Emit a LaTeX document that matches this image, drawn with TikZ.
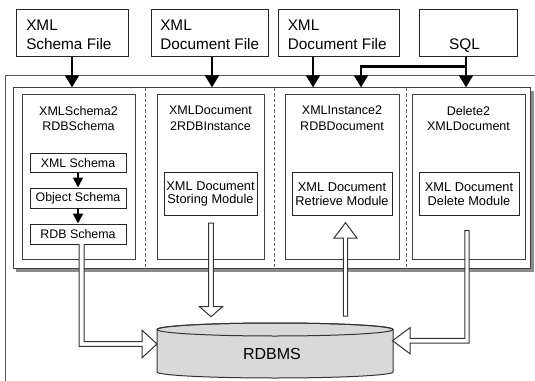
\documentclass[tikz,border=0pt]{standalone}
\usepackage{fontspec}
\setmainfont{Liberation Sans}
\usetikzlibrary{arrows.meta,calc}
\newlength\pxu
\setlength\pxu{0.75pt}
\begin{document}
\begin{tikzpicture}[x=0.75pt,y=-0.75pt,
  box/.style={draw=black!85, rectangle, inner sep=0pt, line width=0.75pt},
  colbox/.style={draw=black!75, rectangle, inner sep=0pt, line width=0.75pt, minimum height=164\pxu},
  toptext/.style={inner sep=0pt, anchor=west, align=left, font=\fontsize{11.5}{14.25}\selectfont},
  coltitle/.style={inner sep=0pt, align=center, font=\fontsize{9.4}{11.8}\selectfont},
  modtext/.style={inner sep=0pt, align=center, font=\fontsize{9.6}{10}\selectfont},
  smalltext/.style={inner sep=0pt, font=\fontsize{9.3}{11}\selectfont},
  blk/.style={line width=2.2pt, -{Triangle[length=9pt,width=10pt]}},
  sml/.style={line width=1.4pt, -{Triangle[length=7.5pt,width=7.5pt]}},
  divider/.style={draw=black!60, line width=0.75pt, dash pattern=on 2.5pt off 1.5pt},
  hollow/.style={draw=black!80, fill=white, line width=0.75pt, line join=miter}
]
\useasboundingbox (0,0) rectangle (535,381);

% outer frame (open to the right and bottom)
\draw[black!65, line width=0.75pt] (5,381) -- (5,76) -- (535,76);

% inner frame with shadow
\fill[black!45] (16,91) rectangle (533.5,271.5);
\node[draw=black!75, fill=white, line width=0.75pt, inner sep=0pt,
      minimum width=517\pxu, minimum height=180\pxu] (frame) at (271.5,178) {};

% dashed dividers
\draw[divider] (145,88) -- (145,268);
\draw[divider] (274,88) -- (274,268);
\draw[divider] (406,88) -- (406,268);

% top input boxes
\node[box, minimum width=112\pxu, minimum height=46.5\pxu] (f1) at (72,33.25) {};
\node[box, minimum width=117\pxu, minimum height=46.5\pxu] (f2) at (209.5,33.25) {};
\node[box, minimum width=121\pxu, minimum height=46.5\pxu] (f3) at (338.5,33.25) {};
\node[box, minimum width=98\pxu, minimum height=46.5\pxu] (sql) at (468,33.25) {};
\node[toptext] (t1) at (26,34.5) {XML\\Schema File};
\node[toptext] (t2) at (160,34.5) {XML\\Document File};
\node[toptext] (t3) at (287.5,34.5) {XML\\Document File};
\node[inner sep=0pt, anchor=base, font=\fontsize{11.5}{14.25}\selectfont] (t4) at (464.5,50) {SQL};

% column boxes
\node[colbox, minimum width=113\pxu] (c1) at (78.5,177) {};
\node[colbox, minimum width=107\pxu] (c2) at (210.5,177) {};
\node[colbox, minimum width=114\pxu] (c3) at (342,177) {};
\node[colbox, minimum width=113\pxu] (c4) at (468.5,177) {};
\node[coltitle] (h1) at (78.5,118.4) {XMLSchema2\\RDBSchema};
\node[coltitle] (h2) at (210.5,118.4) {XMLDocument\\2RDBInstance};
\node[coltitle] (h3) at (342,118.4) {XMLInstance2\\RDBDocument};
\node[coltitle] (h4) at (468.5,118.4) {Delete2\\XMLDocument};

% schema chain in column 1
\node[box, minimum width=96\pxu, minimum height=19\pxu] (s1) at (78,163.5) {};
\node[box, minimum width=96\pxu, minimum height=20\pxu] (s2) at (78,198) {};
\node[box, minimum width=96\pxu, minimum height=20\pxu] (s3) at (78,234) {};
\node[smalltext] at (s1) {XML Schema};
\node[smalltext] at (s2) {Object Schema};
\node[smalltext] at (s3) {RDB Schema};
\draw[sml] (s1.south) -- (s2.north);
\draw[sml] (s2.south) -- (s3.north);

% modules
\node[box, minimum width=93\pxu, minimum height=42\pxu] (m2) at (210.5,194) {};
\node[box, minimum width=100\pxu, minimum height=42\pxu] (m3) at (342,194) {};
\node[box, minimum width=100\pxu, minimum height=42\pxu] (m4) at (469,194) {};
\node[modtext] (mt2) at (210.5,194) {XML Document\\Storing Module};
\node[modtext] (mt3) at (342,194) {XML Document\\Retrieve Module};
\node[modtext] (mt4) at (469,194) {XML Document\\Delete Module};

% input arrows
\draw[blk] (f1.south) -- (f1.south |- frame.north);
\draw[blk] (212,0 |- f2.south) -- (212,0 |- frame.north);
\draw[blk] (313,0 |- f3.south) -- (313,0 |- frame.north);
\draw[blk] (466,0 |- sql.south) -- (466,0 |- frame.north);
\draw[blk, line cap=butt] (466,66.7) -| (361,0 |- frame.north);

% RDBMS cylinder
\node[inner sep=0pt, minimum width=236\pxu, minimum height=43\pxu] (db) at (275,351) {};
\filldraw[fill=black!15, draw=black!80, line width=0.75pt]
  (157,329.5) -- (157,372) arc[start angle=180, end angle=0, x radius=118, y radius=6]
  -- (393,329.5) arc[start angle=0, end angle=-180, x radius=118, y radius=6.5] -- cycle;
\draw[black!80, line width=0.75pt] (275,329.5) ellipse[x radius=118, y radius=6.5];
\node[inner sep=0pt, font=\fontsize{12}{14}\selectfont] (dbt) at (272,353.5) {RDBMS};

% hollow arrows
\filldraw[hollow] (79.2,244) -- (79.2,346.4) -- (142,346.4) -- (142,357.8) -- (157,344)
  -- (142,330.2) -- (142,341.6) -- (84,341.6) -- (84,244);
\filldraw[hollow] (208.7,223) -- (208.7,306.7) -- (199.5,306.7) -- (211,316.7)
  -- (222.5,306.7) -- (213.3,306.7) -- (213.3,223) -- cycle;
\filldraw[hollow] (343.3,316) -- (343.3,238) -- (334,238) -- (345.5,222.7)
  -- (357,238) -- (347.7,238) -- (347.7,316) -- cycle;
\filldraw[hollow] (464.8,230.7) -- (464.8,338.3) -- (410,338.3) -- (410,327.7)
  -- (392.5,340.7) -- (410,353.7) -- (410,343.1) -- (469.2,343.1) -- (469.2,230.7) -- cycle;
\end{tikzpicture}
\end{document}
